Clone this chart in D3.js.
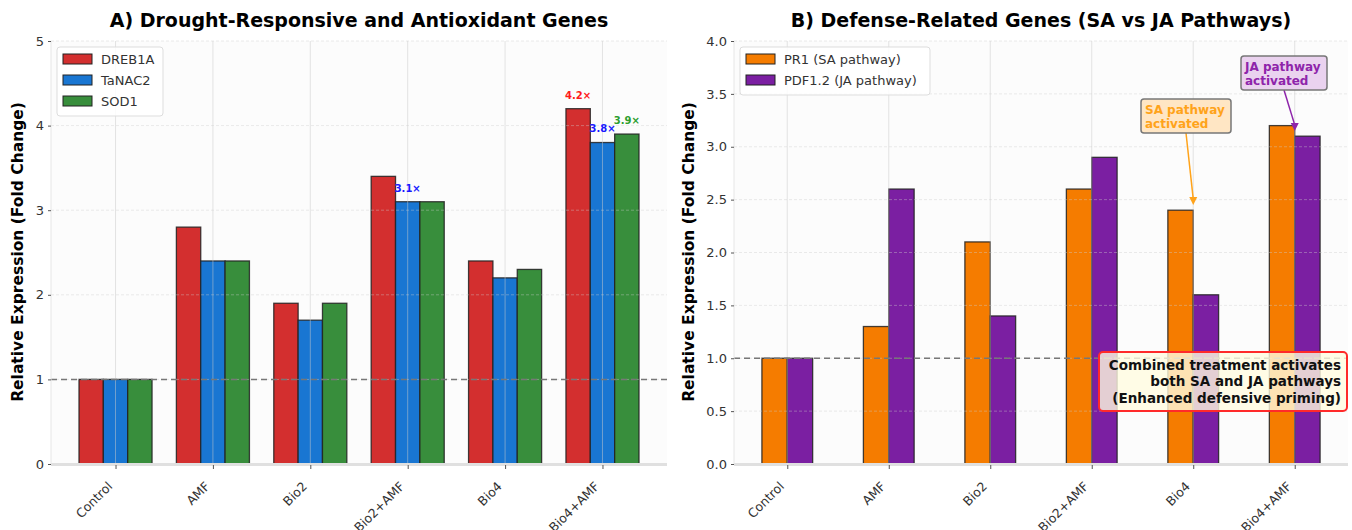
<!DOCTYPE html>
<html>
<head>
<meta charset="utf-8">
<script src="https://cdn.jsdelivr.net/npm/d3@7"></script>
<style>
  body { margin: 0; background: #fff; }
  svg { font-family: "DejaVu Sans", sans-serif; }
</style>
</head>
<body>
<div id="chart"></div>
<script>
// treatments (shared by both panels)
var treatments = ["Control", "AMF", "Bio2", "Bio2+AMF", "Bio4", "Bio4+AMF"];

// panel A values
var dreb1a = [1.0, 2.8, 1.9, 3.4, 2.4, 4.2];
var tanac2 = [1.0, 2.4, 1.7, 3.1, 2.2, 3.8];
var sod1 = [1.0, 2.4, 1.9, 3.1, 2.3, 3.9];
var ticksA = [0, 1, 2, 3, 4, 5];

// panel B values
var pr1 = [1.0, 1.3, 2.1, 2.6, 2.4, 3.2];
var pdf12 = [1.0, 2.6, 1.4, 2.9, 1.6, 3.1];
var ticksB = [0, 0.5, 1.0, 1.5, 2.0, 2.5, 3.0, 3.5, 4.0];

// fold labels on panel A: [series index, treatment index, text]
var foldLabels = [[0, 5, "4.2\u00d7"], [1, 5, "3.8\u00d7"], [2, 5, "3.9\u00d7"], [1, 3, "3.1\u00d7"]];

var W = 1352, H = 530;
var svg = d3.select("#chart").append("svg").attr("width", W).attr("height", H);

function drawPanel(opt) {
    var g = svg.append("g");
    var n = opt.series.length;
    var bw = 0.25;
    var lo = -n * bw / 2, hi = treatments.length - 1 + n * bw / 2;
    var pad = (hi - lo) * 0.05;

    var x = d3.scaleLinear().domain([lo - pad, hi + pad]).range([opt.left, opt.right]);
    var y = d3.scaleLinear().domain([0, opt.ymax]).range([464, 41]);

    // plot background
    g.append("rect").attr("x", opt.left).attr("y", 41)
        .attr("width", opt.right - opt.left).attr("height", 423)
        .attr("fill", "#fcfcfc");

    // bars
    opt.series.forEach(function(s, si) {
        g.selectAll(null).data(s.values).enter().append("rect")
            .attr("x", function(d, i) { return x(i + lo + si * bw); })
            .attr("y", function(d) { return y(d); })
            .attr("width", x(bw) - x(0))
            .attr("height", function(d) { return y(0) - y(d); })
            .attr("fill", s.color)
            .attr("stroke", "#222")
            .attr("stroke-opacity", 0.85)
            .attr("stroke-width", 1.3);
    });

    // grid over bars
    g.selectAll(null).data(opt.ticks).enter().append("line")
        .attr("x1", opt.left).attr("x2", opt.right)
        .attr("y1", function(d) { return y(d); }).attr("y2", function(d) { return y(d); })
        .attr("stroke", "#ccc").attr("stroke-opacity", 0.4)
        .attr("stroke-dasharray", "3,2");
    g.selectAll(null).data(treatments).enter().append("line")
        .attr("x1", function(d, i) { return x(i); }).attr("x2", function(d, i) { return x(i); })
        .attr("y1", 41).attr("y2", 464)
        .attr("stroke", "#ccc").attr("stroke-opacity", 0.5);

    // reference line at 1
    g.append("line")
        .attr("x1", opt.left).attr("x2", opt.right)
        .attr("y1", y(1)).attr("y2", y(1))
        .attr("stroke", "#777").attr("stroke-width", 1.5)
        .attr("stroke-dasharray", "6,4");

    // spines
    g.append("line").attr("x1", opt.left).attr("x2", opt.right).attr("y1", 464.5).attr("y2", 464.5)
        .attr("stroke", "#e0e0e0").attr("stroke-width", 3);
    g.append("line").attr("x1", opt.left).attr("x2", opt.left).attr("y1", 41).attr("y2", 464)
        .attr("stroke", "#e6e6e6").attr("stroke-width", 1);

    // axes
    var ya = d3.axisLeft(y).tickValues(opt.ticks).tickFormat(opt.fmt).tickSize(3).tickPadding(4);
    var yg = g.append("g").attr("transform", "translate(" + opt.left + ",0)").call(ya);
    yg.select(".domain").remove();
    yg.selectAll("line").attr("stroke", "#555");
    yg.selectAll("text").attr("font-size", 13).attr("fill", "#333").attr("font-family", "DejaVu Sans");

    var xa = d3.axisBottom(x).tickValues(d3.range(treatments.length))
        .tickFormat(function(i) { return treatments[i]; }).tickSize(4).tickPadding(4);
    var xg = g.append("g").attr("transform", "translate(0,465)").call(xa);
    xg.select(".domain").remove();
    xg.selectAll("line").attr("stroke", "#555");
    xg.selectAll("text")
        .attr("font-size", 12.5).attr("fill", "#333").attr("font-family", "DejaVu Sans")
        .attr("text-anchor", "end")
        .attr("x", 0).attr("y", 0).attr("dy", "0.35em")
        .attr("transform", "translate(-6,19) rotate(-45)");

    // titles
    svg.append("text").attr("x", (opt.left + opt.right) / 2).attr("y", 27)
        .attr("text-anchor", "middle").attr("font-size", 19).attr("font-weight", "bold")
        .text(opt.title);
    svg.append("text")
        .attr("transform", "translate(" + opt.ylabelX + "," + 252 + ")rotate(-90)")
        .attr("text-anchor", "middle").attr("font-size", 15.5).attr("font-weight", "bold")
        .text("Relative Expression (Fold Change)");

    // legend
    var lg = g.append("g").attr("transform", "translate(" + (opt.left + 6) + ",47)");
    lg.append("rect").attr("width", opt.legendW).attr("height", 6 + n * 21)
        .attr("rx", 3).attr("fill", "#fff").attr("fill-opacity", 0.85)
        .attr("stroke", "#ddd");
    opt.series.forEach(function(s, si) {
        lg.append("rect").attr("x", 6).attr("y", 7 + si * 21).attr("width", 29).attr("height", 10)
            .attr("fill", s.color).attr("stroke", "#222").attr("stroke-width", 1);
        lg.append("text").attr("x", 44).attr("y", 12 + si * 21).attr("dy", "0.35em")
            .attr("font-size", 13).attr("fill", "#333").text(s.name);
    });

    return { g: g, x: x, y: y, lo: lo, bw: bw };
}

var A = drawPanel({
    left: 51, right: 667, ymax: 5, ticks: ticksA, fmt: d3.format("d"),
    title: "A) Drought-Responsive and Antioxidant Genes", ylabelX: 23, legendW: 106,
    series: [
        { name: "DREB1A", values: dreb1a, color: "#d32f2f" },
        { name: "TaNAC2", values: tanac2, color: "#1976d2" },
        { name: "SOD1", values: sod1, color: "#388e3c" }
    ]
});

var seriesA = [dreb1a, tanac2, sod1];
var labelColors = ["#ff1a1a", "#1a1aff", "#2e9e2e"];
foldLabels.forEach(function(f) {
    var v = seriesA[f[0]][f[1]];
    A.g.append("text")
        .attr("x", A.x(f[1] + A.lo + (f[0] + 0.5) * A.bw))
        .attr("y", A.y(v + 0.12))
        .attr("text-anchor", "middle").attr("font-size", 10).attr("font-weight", "bold")
        .attr("fill", labelColors[f[0]]).text(f[2]);
});

var B = drawPanel({
    left: 734, right: 1348, ymax: 4, ticks: ticksB, fmt: d3.format(".1f"),
    title: "B) Defense-Related Genes (SA vs JA Pathways)", ylabelX: 694, legendW: 190,
    series: [
        { name: "PR1 (SA pathway)", values: pr1, color: "#f57c00" },
        { name: "PDF1.2 (JA pathway)", values: pdf12, color: "#7b1fa2" }
    ]
});

// annotation boxes with arrows
function annotate(lines, bx, by, bwid, tx, ty, col, fill) {
    var g = B.g.append("g");
    g.append("line").attr("x1", bx + bwid / 2).attr("y1", by + 34)
        .attr("x2", B.x(tx)).attr("y2", B.y(ty) - 6)
        .attr("stroke", col).attr("stroke-width", 1.5);
    var px = B.x(tx), py = B.y(ty);
    g.append("path").attr("d", "M" + (px - 4) + "," + (py - 8) + "L" + px + "," + py + "L" + (px + 4) + "," + (py - 8) + "Z")
        .attr("fill", col);
    g.append("rect").attr("x", bx).attr("y", by).attr("width", bwid).attr("height", 34)
        .attr("rx", 3).attr("fill", fill).attr("stroke", "#777").attr("stroke-width", 1.5);
    lines.forEach(function(t, i) {
        g.append("text").attr("x", bx + 4).attr("y", by + 11 + i * 14).attr("dy", "0.35em")
            .attr("font-size", 12).attr("font-weight", "bold").attr("fill", col).text(t);
    });
}
annotate(["SA pathway", "activated"], 1141, 99, 90, 4, 2.45, "#ffa31a", "#ffe6c4");
annotate(["JA pathway", "activated"], 1241, 56, 86, 5, 3.15, "#8e24aa", "#ead2ef");

// summary box
var note = ["Combined treatment activates", "both SA and JA pathways", "(Enhanced defensive priming)"];
var ng = B.g.append("g");
ng.append("rect").attr("x", 1099).attr("y", 352).attr("width", 248).attr("height", 59)
    .attr("rx", 4).attr("fill", "#fffbe0").attr("fill-opacity", 0.8)
    .attr("stroke", "#ff2a2a").attr("stroke-width", 2);
note.forEach(function(t, i) {
    ng.append("text").attr("x", 1341).attr("y", 365 + i * 16.5).attr("dy", "0.35em")
        .attr("text-anchor", "end").attr("font-size", 13.5).attr("font-weight", "bold")
        .attr("fill", "#111").text(t);
});
</script>
</body>
</html>
